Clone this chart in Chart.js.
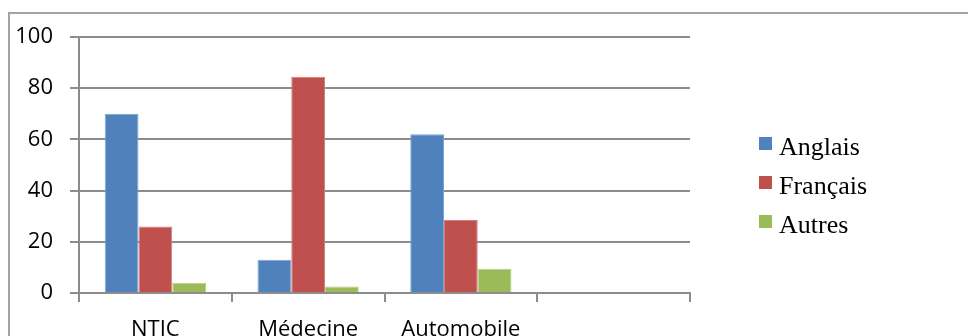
<!DOCTYPE html>
<html lang="fr">
<head>
<meta charset="utf-8">
<title>Langues par domaine</title>
<script src="https://cdn.jsdelivr.net/npm/chart.js@4.4.0/dist/chart.umd.min.js"></script>
<style>
  html, body { margin: 0; padding: 0; background: #fff; width: 968px; height: 336px; overflow: hidden; }
  #frame { position: absolute; left: 8px; top: 12px; width: 1000px; height: 400px;
           border: 2px solid #a3a3a3; box-sizing: border-box; }
  #chart { position: absolute; left: 0; top: 0; }
  #legend { position: absolute; left: 759px; top: 127px; font-family: "Liberation Serif", "Times New Roman", serif;
            font-size: 26px; color: #000; }
  #legend .row { position: relative; height: 39px; line-height: 39px; padding-left: 20px; white-space: nowrap; }
  #legend .sw { position: absolute; left: 0; top: 10px; width: 13px; height: 13px; }
</style>
</head>
<body>
<div id="frame"></div>
<canvas id="chart" width="968" height="336"></canvas>
<div id="legend"></div>
<script>
// Domains on the x axis (the fourth slot is left empty)
const categories = ['NTIC', 'Médecine', 'Automobile', ''];
// Share of each language per domain (%)
const anglais  = [70, 13, 62, null];
const francais = [26, 84.5, 28.5, null];
const autres   = [4, 2.5, 9.5, null];
const seriesNames = ['Anglais', 'Français', 'Autres'];
// Value axis
const yTickValues = [0, 20, 40, 60, 80, 100];

const colors = ['#4F81BD', '#C0504D', '#9BBB59'];
const edges  = ['#7FA3D1', '#D27E7C', '#B6CE86'];
const seriesValues = [anglais, francais, autres];

const gridGray = '#8c8c8c';
const axisFont = { family: '"Open Sans", sans-serif', size: 22 };

const datasets = seriesNames.map((name, i) => ({
  label: name,
  data: seriesValues[i],
  backgroundColor: colors[i],
  borderColor: edges[i],
  borderWidth: 1,
  categoryPercentage: 0.663,
  barPercentage: 1.0
}));

new Chart(document.getElementById('chart'), {
  type: 'bar',
  data: { labels: categories, datasets },
  options: {
    responsive: false,
    devicePixelRatio: 1,
    animation: false,
    layout: { padding: { top: 37, right: 278, left: 0, bottom: 0 } },
    plugins: { legend: { display: false }, tooltip: { enabled: false } },
    scales: {
      x: {
        grid: { offset: true, drawOnChartArea: false, drawTicks: true, tickLength: 9,
                color: gridGray, lineWidth: 2 },
        border: { display: true, color: gridGray, width: 2 },
        ticks: { color: '#000', font: axisFont, padding: 15, maxRotation: 0, autoSkip: false },
        afterFit: (scale) => { scale.height = 43; }
      },
      y: {
        min: yTickValues[0],
        max: yTickValues[yTickValues.length - 1],
        afterBuildTicks: (scale) => { scale.ticks = yTickValues.map(v => ({ value: v })); },
        grid: { drawTicks: true, tickLength: 9, color: gridGray, lineWidth: 2 },
        border: { display: true, color: gridGray, width: 2 },
        ticks: { color: '#000', font: axisFont, padding: 17 },
        afterFit: (scale) => { scale.width = 79; }
      }
    }
  }
});

// Legend built from the series names and colours
const legend = document.getElementById('legend');
seriesNames.forEach((name, i) => {
  const row = document.createElement('div');
  row.className = 'row';
  const sw = document.createElement('span');
  sw.className = 'sw';
  sw.style.background = colors[i];
  row.appendChild(sw);
  row.appendChild(document.createTextNode(name));
  legend.appendChild(row);
});
</script>
</body>
</html>
